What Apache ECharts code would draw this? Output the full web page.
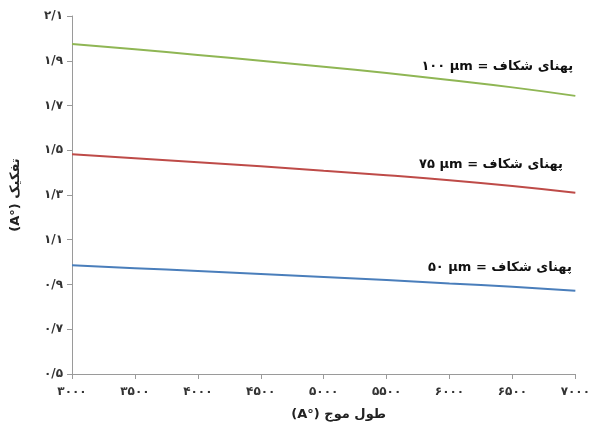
<!DOCTYPE html>
<html>
<head>
<meta charset="utf-8">
<script src="https://cdn.jsdelivr.net/npm/echarts@6/dist/echarts.min.js"></script>
<style>html,body{margin:0;padding:0;background:#fff}#c{width:593px;height:434px}</style>
</head>
<body>
<div id="c"></div>
<script>
// Data
const wavelengths = [3000, 3500, 4000, 4500, 5000, 5500, 6000, 6500, 7000];
const slit100 = [1.975, 1.951, 1.926, 1.900, 1.873, 1.845, 1.814, 1.781, 1.743];
const slit75  = [1.482, 1.464, 1.446, 1.428, 1.408, 1.388, 1.366, 1.340, 1.310];
const slit50  = [0.986, 0.973, 0.960, 0.947, 0.934, 0.920, 0.905, 0.890, 0.872];
const seriesLabels = ['۱۰۰ μm = پهنای شکاف', '۷۵ μm = پهنای شکاف', '۵۰ μm = پهنای شکاف'];
const xAxisName = '(A°) طول موج';
const yAxisName = '(A°) تفکیک';

const fa = s => String(s).replace(/[0-9]/g, d => '۰۱۲۳۴۵۶۷۸۹'[d]).replace('.', '/');
const pairs = arr => wavelengths.map((w, i) => [w, arr[i]]);

const FONT = 'DejaVu Sans';
function lineSeries(name, arr, color, labelCoord) {
  return {
    name, type: 'line', data: pairs(arr), showSymbol: false, smooth: true,
    lineStyle: { color, width: 2 }, itemStyle: { color },
    markPoint: {
      symbol: 'circle', symbolSize: 0, silent: true,
      data: [{ coord: labelCoord }],
      label: { show: true, position: 'inside', formatter: name, color: '#111',
               fontFamily: FONT, fontWeight: 'bold', fontSize: 13 }
    }
  };
}

const chart = echarts.init(document.getElementById('c'), null, { renderer: 'canvas' });
chart.setOption({
  animation: false,
  backgroundColor: '#fff',
  grid: { left: 72, right: 15, top: 16, bottom: 60, containLabel: false },
  xAxis: {
    type: 'value', min: 3000, max: 7000, interval: 500,
    name: xAxisName, nameLocation: 'middle', nameGap: 34,
    nameTextStyle: { fontFamily: FONT, fontWeight: 'bold', fontSize: 13, color: '#222', padding: [0, 0, 0, 30] },
    axisLine: { show: true, lineStyle: { color: '#9a9a9a', width: 1 } },
    axisTick: { show: true, length: 5, lineStyle: { color: '#9a9a9a' } },
    axisLabel: { margin: 12, formatter: v => fa(v), fontFamily: FONT, fontWeight: 'bold', fontSize: 12, color: '#333' },
    splitLine: { show: false }
  },
  yAxis: {
    type: 'value', min: 0.5, max: 2.1, interval: 0.2,
    name: yAxisName, nameLocation: 'middle', nameGap: 50,
    nameTextStyle: { fontFamily: FONT, fontWeight: 'bold', fontSize: 13, color: '#222' },
    axisLine: { show: true, lineStyle: { color: '#9a9a9a', width: 1 } },
    axisTick: { show: true, length: 5, lineStyle: { color: '#9a9a9a' } },
    axisLabel: { margin: 9, formatter: v => fa(v.toFixed(1)), fontFamily: FONT, fontWeight: 'bold', fontSize: 12, color: '#333' },
    splitLine: { show: false }
  },
  series: [
    lineSeries(seriesLabels[0], slit100, '#8fb654', [6380, 1.872]),
    lineSeries(seriesLabels[1], slit75, '#be4b48', [6330, 1.434]),
    lineSeries(seriesLabels[2], slit50, '#4a7ebb', [6400, 0.974])
  ]
});
</script>
</body>
</html>
